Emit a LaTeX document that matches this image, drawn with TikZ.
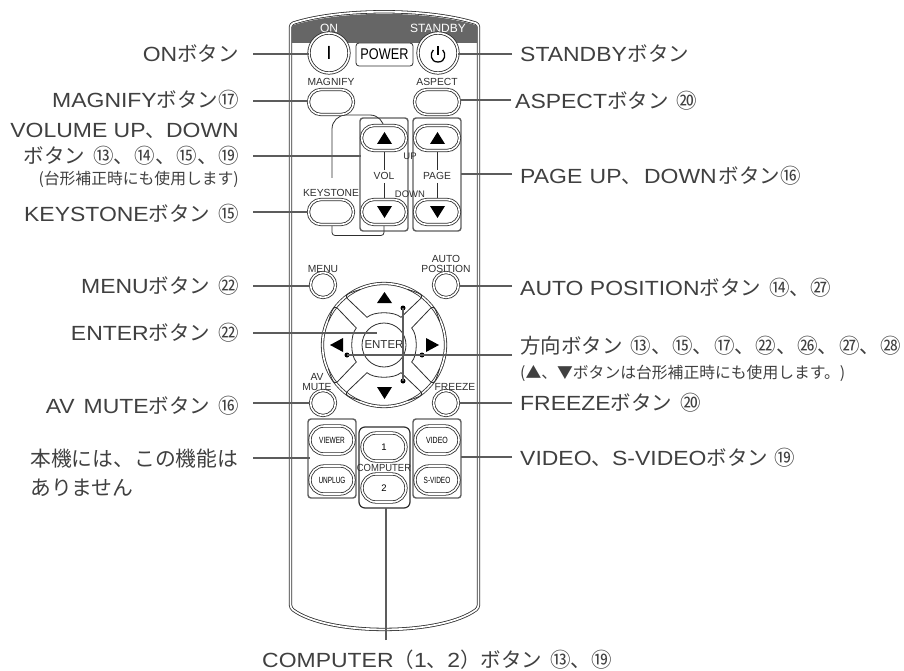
\documentclass[tikz,border=0pt]{standalone}
\usepackage{fontspec}
\setmainfont[FakeStretch=1.12]{Liberation Sans}
\newfontfamily\rf{Liberation Sans}
\newfontfamily\jpf{Noto Sans CJK JP}
\newcommand{\jp}[1]{{\jpf #1}}
\newcommand{\ksp}{\hspace{8pt}}
\newcommand{\tk}{\hspace{.7pt}}
\definecolor{ink}{HTML}{404040}
\definecolor{lead}{HTML}{5C5C5C}
\definecolor{hdr}{HTML}{666666}
\definecolor{edge}{HTML}{2E2E2E}
\tikzset{
  lbl/.style={font=\fontsize{20.5}{22}\selectfont, text=ink, inner sep=0pt},
  lblsmall/.style={font=\fontsize{15.8}{17}\selectfont, text=ink, inner sep=0pt},
  tag/.style={font=\rf\fontsize{10.3}{10.3}\selectfont, text=edge, inner sep=0pt, align=center},
  tinytag/.style={font=\rf\fontsize{9.5}{9.5}\selectfont, text=edge, inner sep=0pt},
  leader/.style={draw=lead, line width=1.3pt},
  oval/.style={draw=edge, double=white, double distance=1.6pt, line width=.8pt, rectangle, rounded corners=12.5pt, minimum width=#1, minimum height=25pt, inner sep=0pt},
  oval/.default=45pt,
  ovaltall/.style={oval=44pt, minimum height=28pt, rounded corners=14pt},
  round/.style={draw=edge, double=white, double distance=1.6pt, line width=.8pt, circle, minimum size=#1, inner sep=0pt},
  grp/.style={draw=lead, line width=1.4pt, rounded corners=3pt},
  tri/.style={fill=black},
  dot/.style={circle, fill=black, minimum size=5pt, inner sep=0pt},
}
\begin{document}
\begin{tikzpicture}[x=1pt,y=-1pt]
\useasboundingbox (0,0) rectangle (904,671);
% body
\draw[draw=edge, double=white, double distance=1.7pt, line width=.8pt, rounded corners=3pt]
  (290.5,60) -- (290.5,24) .. controls (340,8) and (428,8) .. (478.5,24) -- (478.5,608)
  .. controls (440,636) and (328,636) .. (290.5,608) -- cycle;
\fill[hdr] (292,43) -- (292,25.5) .. controls (341,10) and (427,10) .. (477,25.5) -- (477,43) -- cycle;
% groups
\draw[grp] (360,118) rectangle (408,231);
\draw[grp] (413,118) rectangle (461,231);
\draw[grp] (308,419) rectangle (356,498);
\draw[grp] (413,419) rectangle (461,498);
\draw[draw=edge, line width=1.2pt, rounded corners=6pt] (359,427) rectangle (410,508);
% keystone bracket
\draw[draw=edge, line width=.8pt, rounded corners=14pt] (384,125) -- (384,115) -- (332,115) -- (332,178);
\draw[draw=edge, line width=.8pt, rounded corners=3pt] (332,225) -- (332,235.5) -- (384,235.5) -- (384,225);
% labels on the remote
\node[tag, text=white, font=\rf\fontsize{12}{12}\selectfont] (tON) at (329,28) {ON};
\node[tag, text=white, font=\rf\fontsize{12}{12}\selectfont] (tST) at (438,28) {STANDBY};
\node[tag] (tMA) at (331,82) {MAGNIFY};
\node[tag] (tAS) at (437,82) {ASPECT};
\node[tag] (tKE) at (331,193) {KEYSTONE};
\node[tag] (tVOL) at (384,176) {VOL};
\node[tag] (tPG) at (437,176) {PAGE};
\node[tinytag] (tUP) at (410,156) {UP};
\node[tinytag] (tDN) at (410,194) {DOWN};
\node[tag] (tME) at (323,269) {MENU};
\node[tag, font=\rf\fontsize{10.3}{10.5}\selectfont] (tAP) at (446,264) {AUTO\\POSITION};
\node[tag, font=\rf\fontsize{10.3}{10.5}\selectfont] (tAV) at (317,382) {AV\\MUTE};
\node[tag] (tFR) at (455,387) {FREEZE};
\node[tag] (tCO) at (384,468) {\scalebox{.92}[1]{COMPUTER}};
% vol / page connecting lines
\draw[draw=edge, line width=.8pt] (tVOL) ++(0,-25) -- ++(0,19);
\draw[draw=edge, line width=.8pt] (tVOL) ++(0,7) -- ++(0,23);
\draw[draw=edge, line width=.8pt] (tPG) ++(0,-25) -- ++(0,19);
\draw[draw=edge, line width=.8pt] (tPG) ++(0,7) -- ++(0,23);
% buttons
\node[round=40pt, fill=white, font=\rf\fontsize{19}{19}\selectfont] (on) at (329,53) {I};
\node[round=40pt, fill=white] (standby) at (438,53) {};
\draw[line width=1.3pt, black] (438,46.5) -- (438,55);
\draw[line width=1.3pt, black] (433.3,50) .. controls (430,53) and (430,62) .. (438,62) .. controls (446,62) and (446,53) .. (442.7,50);
\node[draw=edge, line width=.8pt, fill=white, rounded corners=3pt, minimum width=57pt, minimum height=23pt, inner sep=0pt, font=\rf\fontsize{15.5}{15.5}\selectfont] (power) at (384.5,54.5) {\scalebox{.82}[1]{POWER}};
\node[oval, fill=white] (magnify) at (331,102) {};
\node[oval, fill=white] (aspect) at (437,102) {};
\node[oval, fill=white] (volup) at (384,138) {};
\node[oval, fill=white] (voldn) at (384,212) {};
\node[oval, fill=white] (pgup) at (437,138) {};
\node[oval, fill=white] (pgdn) at (437,212) {};
\node[oval, fill=white] (keystone) at (331,212) {};
\node[round=25pt, fill=white] (menu) at (323,285) {};
\node[round=25pt, fill=white] (autopos) at (446,285) {};
\node[round=25pt, fill=white] (avmute) at (323,403) {};
\node[round=25pt, fill=white] (freeze) at (446,403) {};
\node[ovaltall, fill=white, font=\rf\fontsize{9}{9}\selectfont] (viewer) at (332,440) {\scalebox{.72}[1]{VIEWER}};
\node[ovaltall, fill=white, font=\rf\fontsize{9}{9}\selectfont] (unplug) at (332,480) {\scalebox{.72}[1]{UNPLUG}};
\node[ovaltall, fill=white, font=\rf\fontsize{9}{9}\selectfont] (video) at (437,440) {\scalebox{.78}[1]{VIDEO}};
\node[ovaltall, fill=white, font=\rf\fontsize{9}{9}\selectfont] (svideo) at (437,480) {\scalebox{.72}[1]{S-VIDEO}};
\node[ovaltall, fill=white, font=\rf\fontsize{9.5}{9.5}\selectfont] (c1) at (384,447) {1};
\node[ovaltall, fill=white, font=\rf\fontsize{9.5}{9.5}\selectfont] (c2) at (384,488) {2};
% d-pad
\node[round=123pt, fill=white] (dpad) at (384,345) {};
\foreach \a in {0,90,180,270}{
  \begin{scope}[shift={(384,345)}, rotate=\a]
    \draw[draw=edge, line width=.8pt] (-24,-55.5) .. controls (-31,-53) and (-41,-51) .. (-36.7,-46.5) -- (-17,-27.7) .. controls (-10,-33.8) and (10,-33.8) .. (17,-27.7) -- (36.7,-46.5) .. controls (41,-51) and (31,-53) .. (24,-55.5);
  \end{scope}
}
\node[draw=edge, line width=.8pt, circle, minimum size=44pt, inner sep=0pt, font=\rf\fontsize{11.5}{11.5}\selectfont, text=edge] (enter) at (384,345) {ENTER};
% arrowheads on the buttons
\fill[tri] (377,144) -- (392,144) -- (384.5,132) -- cycle;
\fill[tri] (377,206) -- (392,206) -- (384.5,218) -- cycle;
\fill[tri] (430,144) -- (445,144) -- (437.5,132) -- cycle;
\fill[tri] (430,206) -- (445,206) -- (437.5,218) -- cycle;
\fill[tri] (377,303) -- (392,303) -- (384.5,292) -- cycle;
\fill[tri] (377,387) -- (392,387) -- (384.5,399) -- cycle;
\fill[tri] (343,338) -- (343,352) -- (330,345) -- cycle;
\fill[tri] (426,338) -- (426,352) -- (439,345) -- cycle;
% dots and cross
\node[dot] (du) at (403,308) {};
\node[dot] (dd) at (403,381) {};
\node[dot] (dl) at (347,355) {};
\node[dot] (dr) at (422,355) {};
\draw[leader] (du.center) -- (dd.center);
% text labels left
\node[lbl, anchor=base east] (Lon) at (239,62) {ON\jp{ボタン}};
\node[lbl, anchor=base east] (Lma) at (239,108) {MAGNIFY\jp{ボタン⑰}};
\node[lbl, anchor=base east] (Lvo) at (239,138) {VOLUME UP\jp{、}DOWN};
\node[lbl, anchor=base east] (Lvb) at (239,164) {\jp{ボタン\ksp⑬、\tk⑭、\tk⑮、\tk⑲}};
\node[lblsmall, anchor=base east] (Lvs) at (239,185) {\jp{(台形補正時にも使用します)}};
\node[lbl, anchor=base east] (Lke) at (239,221) {KEYSTONE\jp{ボタン\ksp⑮}};
\node[lbl, anchor=base east] (Lme) at (239,293) {MENU\jp{ボタン\ksp㉒}};
\node[lbl, anchor=base east] (Len) at (239,340) {ENTER\jp{ボタン\ksp㉒}};
\node[lbl, anchor=base east] (Lav) at (239,413) {AV\hspace{9pt}MUTE\jp{ボタン\ksp⑯}};
\node[lbl, font=\fontsize{20.8}{22}\selectfont, anchor=base west] (Lna) at (30,466) {\jp{本機には、この機能は}};
\node[lbl, font=\fontsize{20.8}{22}\selectfont, anchor=base west] (Lnb) at (30,495) {\jp{ありません}};
% text labels right
\node[lbl, anchor=base west] (Rst) at (520,62) {STANDBY\jp{\hspace{1pt}ボタン}};
\node[lbl, anchor=base west] (Ras) at (515,109) {ASPECT\jp{ボタン\ksp⑳}};
\node[lbl, anchor=base west] (Rpg) at (520,184) {PAGE\hspace{1pt} UP\jp{、}\hspace{2pt}DOWN\jp{\hspace{2pt}ボタン⑯}};
\node[lbl, anchor=base west] (Rau) at (520,295) {AUTO POSITION\jp{ボタン\ksp⑭、\tk㉗}};
\node[lbl, anchor=base west] (Rho) at (520,353) {\jp{方向ボタン\ksp⑬、\tk⑮、\tk⑰、\tk㉒、\tk㉖、\tk㉗、\tk㉘}};
\node[lblsmall, anchor=base west] (Rhs) at (520,378) {\jp{(▲、▼ボタンは台形補正時にも使用します。)}};
\node[lbl, anchor=base west] (Rfr) at (520,410) {FREEZE\jp{ボタン\ksp⑳}};
\node[lbl, anchor=base west] (Rvi) at (520,465) {VIDEO\jp{、}S-VIDEO\jp{ボタン\hspace{6pt}⑲}};
\node[lbl, anchor=base west] (Bco) at (262,667) {COMPUTER\jp{（}1\jp{、}2\jp{）ボタン\ksp⑬、\tk⑲}};
% leader ends
\coordinate (a1) at (253,54);
\coordinate (a2) at (253,101);
\coordinate (a3) at (253,156);
\coordinate (a4) at (253,212);
\coordinate (a5) at (253,286);
\coordinate (a6) at (253,333);
\coordinate (a6e) at (377,333);
\coordinate (a7) at (253,403);
\coordinate (a8) at (253,458);
\coordinate (b1) at (512,54);
\coordinate (b2) at (511,100);
\coordinate (b3) at (512,174);
\coordinate (b4) at (512,286);
\coordinate (b5) at (512,355);
\coordinate (b6) at (512,403);
\coordinate (b7) at (512,457);
\coordinate (b8) at (386,640);
% leaders
\draw[leader] (a1) -- (a1 -| on.west);
\draw[leader] (a2) -- (a2 -| magnify.west);
\draw[leader] (a3) -- (a3 -| volup.west);
\draw[leader] (a4) -- (keystone);
\draw[leader] (a5) -- (a5 -| menu.west);
\draw[leader] (a6) -- (a6e);
\draw[leader] (a7) -- (avmute);
\draw[leader] (a8) -- (a8 -| viewer.west);
\draw[leader] (b1) -- (b1 -| standby.east);
\draw[leader] (b2) -- (b2 -| aspect.east);
\draw[leader] (b3) -- (461,174);
\draw[leader] (b4) -- (b4 -| autopos.east);
\draw[leader] (b5) -- (dl.center);
\draw[leader] (b6) -- (freeze);
\draw[leader] (b7) -- (461,457);
\draw[leader] (b8) -- (386,508);
\end{tikzpicture}
\end{document}
